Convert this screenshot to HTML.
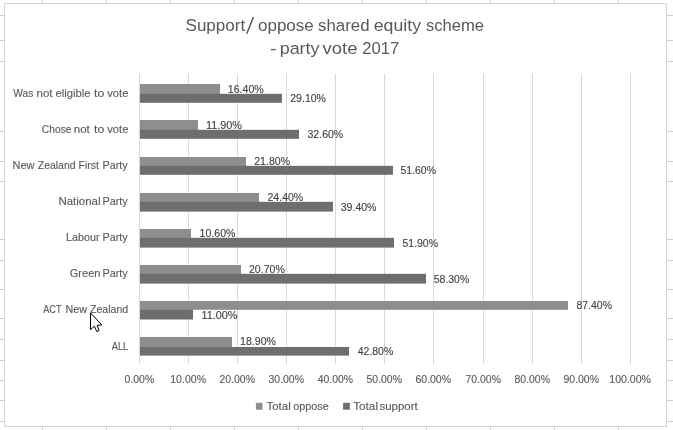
<!DOCTYPE html>
<html><head><meta charset="utf-8"><title>chart</title>
<style>html,body{margin:0;padding:0;background:#fff;overflow:hidden}svg{display:block;will-change:transform;filter:grayscale(1)}text{font-family:"Liberation Sans",sans-serif;stroke-width:0.12px}</style></head>
<body>
<svg width="673" height="430" viewBox="0 0 673 430">
<rect id="bg" x="0" y="0" width="673" height="430" fill="#fff"/>
<g id="shapes">
<g shape-rendering="crispEdges" fill="#d0d0d0">
<rect x="42" y="0" width="1" height="3"/><rect x="42" y="427" width="1" height="3"/>
<rect x="106" y="0" width="1" height="3"/><rect x="106" y="427" width="1" height="3"/>
<rect x="170" y="0" width="1" height="3"/><rect x="170" y="427" width="1" height="3"/>
<rect x="234" y="0" width="1" height="3"/><rect x="234" y="427" width="1" height="3"/>
<rect x="298" y="0" width="1" height="3"/><rect x="298" y="427" width="1" height="3"/>
<rect x="362" y="0" width="1" height="3"/><rect x="362" y="427" width="1" height="3"/>
<rect x="426" y="0" width="1" height="3"/><rect x="426" y="427" width="1" height="3"/>
<rect x="490" y="0" width="1" height="3"/><rect x="490" y="427" width="1" height="3"/>
<rect x="554" y="0" width="1" height="3"/><rect x="554" y="427" width="1" height="3"/>
<rect x="618" y="0" width="1" height="3"/><rect x="618" y="427" width="1" height="3"/>
<rect x="0" y="15" width="4" height="1"/><rect x="667" y="15" width="6" height="1"/>
<rect x="0" y="40" width="4" height="1"/><rect x="667" y="40" width="6" height="1"/>
<rect x="0" y="61" width="4" height="1"/><rect x="667" y="61" width="6" height="1"/>
<rect x="0" y="131" width="4" height="1"/><rect x="667" y="131" width="6" height="1"/>
<rect x="0" y="161" width="4" height="1"/><rect x="667" y="161" width="6" height="1"/>
<rect x="0" y="181" width="4" height="1"/><rect x="667" y="181" width="6" height="1"/>
<rect x="0" y="239" width="4" height="1"/><rect x="667" y="239" width="6" height="1"/>
<rect x="0" y="260" width="4" height="1"/><rect x="667" y="260" width="6" height="1"/>
<rect x="0" y="289" width="4" height="1"/><rect x="667" y="289" width="6" height="1"/>
<rect x="0" y="318" width="4" height="1"/><rect x="667" y="318" width="6" height="1"/>
<rect x="0" y="339" width="4" height="1"/><rect x="667" y="339" width="6" height="1"/>
<rect x="0" y="360" width="4" height="1"/><rect x="667" y="360" width="6" height="1"/>
<rect x="0" y="380" width="4" height="1"/><rect x="667" y="380" width="6" height="1"/>
<rect x="0" y="400" width="4" height="1"/><rect x="667" y="400" width="6" height="1"/>
<rect x="0" y="421" width="4" height="1"/><rect x="667" y="421" width="6" height="1"/>
</g>
<rect x="4.5" y="3.5" width="662" height="423" fill="#fff" stroke="#d6d6d6" stroke-width="1" shape-rendering="crispEdges"/>
<g shape-rendering="crispEdges" fill="#d9d9d9">
<rect x="139" y="74" width="1" height="290"/>
<rect x="188" y="74" width="1" height="290"/>
<rect x="237" y="74" width="1" height="290"/>
<rect x="286" y="74" width="1" height="290"/>
<rect x="335" y="74" width="1" height="290"/>
<rect x="384" y="74" width="1" height="290"/>
<rect x="433" y="74" width="1" height="290"/>
<rect x="483" y="74" width="1" height="290"/>
<rect x="532" y="74" width="1" height="290"/>
<rect x="581" y="74" width="1" height="290"/>
<rect x="630" y="74" width="1" height="290"/>
</g>
<g>
<rect x="140" y="91.8" width="80.0" height="2.5" fill="#6e6e6e"/><rect x="140" y="93.8" width="142.0" height="9.0" fill="#6e6e6e"/><rect x="140" y="84.0" width="80.0" height="9.8" fill="#8e8e8e"/>
<rect x="140" y="127.8" width="58.0" height="2.5" fill="#6e6e6e"/><rect x="140" y="129.8" width="159.0" height="9.0" fill="#6e6e6e"/><rect x="140" y="120.0" width="58.0" height="9.8" fill="#8e8e8e"/>
<rect x="140" y="163.8" width="106.0" height="2.5" fill="#6e6e6e"/><rect x="140" y="165.8" width="253.0" height="9.0" fill="#6e6e6e"/><rect x="140" y="157.0" width="106.0" height="8.8" fill="#8e8e8e"/>
<rect x="140" y="199.8" width="119.0" height="2.5" fill="#6e6e6e"/><rect x="140" y="201.8" width="193.0" height="9.8" fill="#6e6e6e"/><rect x="140" y="193.0" width="119.0" height="8.8" fill="#8e8e8e"/>
<rect x="140" y="235.8" width="51.0" height="2.5" fill="#6e6e6e"/><rect x="140" y="237.8" width="254.0" height="9.8" fill="#6e6e6e"/><rect x="140" y="229.0" width="51.0" height="8.8" fill="#8e8e8e"/>
<rect x="140" y="271.8" width="101.0" height="2.5" fill="#6e6e6e"/><rect x="140" y="273.8" width="286.0" height="9.8" fill="#6e6e6e"/><rect x="140" y="265.0" width="101.0" height="8.8" fill="#8e8e8e"/>
<rect x="140" y="307.8" width="53.0" height="2.5" fill="#6e6e6e"/><rect x="140" y="309.8" width="53.0" height="9.7" fill="#6e6e6e"/><rect x="140" y="301.0" width="428.0" height="8.8" fill="#8e8e8e"/>
<rect x="140" y="345.0" width="92.0" height="2.5" fill="#6e6e6e"/><rect x="140" y="347.0" width="209.0" height="8.6" fill="#6e6e6e"/><rect x="140" y="337.0" width="92.0" height="10.0" fill="#8e8e8e"/>
</g>
<rect x="255.9" y="402.8" width="6.7" height="6.9" fill="#8e8e8e"/>
<rect x="343.1" y="402.8" width="6.7" height="6.9" fill="#6e6e6e"/>
<line x1="246.8" y1="33.8" x2="253.4" y2="17.0" stroke="#595959" stroke-width="1.5"/>
</g>
<g id="texts">
<text id="t0" x="185.50" y="31.00" font-size="17.2" fill="#595959" stroke="none" stroke-width="0.12" textLength="59.75" lengthAdjust="spacingAndGlyphs">Support</text>
<text id="t1" x="258.00" y="31.00" font-size="17.2" fill="#595959" stroke="none" stroke-width="0.12" textLength="55.76" lengthAdjust="spacingAndGlyphs">oppose</text>
<text id="t2" x="317.99" y="31.00" font-size="17.2" fill="#595959" stroke="none" stroke-width="0.12" textLength="51.52" lengthAdjust="spacingAndGlyphs">shared</text>
<text id="t3" x="373.75" y="31.00" font-size="17.2" fill="#595959" stroke="none" stroke-width="0.12" textLength="47.25" lengthAdjust="spacingAndGlyphs">equity</text>
<text id="t4" x="425.99" y="31.00" font-size="17.2" fill="#595959" stroke="none" stroke-width="0.12" textLength="58.00" lengthAdjust="spacingAndGlyphs">scheme</text>
<text id="t5" x="269.91" y="54.00" font-size="17.2" fill="#595959" stroke="none" stroke-width="0.12" textLength="6.69" lengthAdjust="spacingAndGlyphs">-</text>
<text id="t6" x="279.74" y="54.00" font-size="17.2" fill="#595959" stroke="none" stroke-width="0.12" textLength="39.76" lengthAdjust="spacingAndGlyphs">party</text>
<text id="t7" x="322.50" y="54.00" font-size="17.2" fill="#595959" stroke="none" stroke-width="0.12" textLength="35.00" lengthAdjust="spacingAndGlyphs">vote</text>
<text id="t8" x="362.24" y="54.00" font-size="17.2" fill="#595959" stroke="none" stroke-width="0.12" textLength="37.02" lengthAdjust="spacingAndGlyphs">2017</text>
<text id="t9" x="13.25" y="97.00" font-size="10.9" fill="#595959" stroke="#595959" stroke-width="0.12" textLength="20.00" lengthAdjust="spacingAndGlyphs">Was</text>
<text id="t10" x="36.52" y="97.00" font-size="10.9" fill="#595959" stroke="#595959" stroke-width="0.12" textLength="15.98" lengthAdjust="spacingAndGlyphs">not</text>
<text id="t11" x="55.50" y="97.00" font-size="10.9" fill="#595959" stroke="#595959" stroke-width="0.12" textLength="35.00" lengthAdjust="spacingAndGlyphs">eligible</text>
<text id="t12" x="93.99" y="97.00" font-size="10.9" fill="#595959" stroke="#595959" stroke-width="0.12" textLength="10.25" lengthAdjust="spacingAndGlyphs">to</text>
<text id="t13" x="107.25" y="97.00" font-size="10.9" fill="#595959" stroke="#595959" stroke-width="0.12" textLength="21.25" lengthAdjust="spacingAndGlyphs">vote</text>
<text id="t14" x="41.75" y="133.00" font-size="10.9" fill="#595959" stroke="#595959" stroke-width="0.12" textLength="29.75" lengthAdjust="spacingAndGlyphs">Chose</text>
<text id="t15" x="73.77" y="133.00" font-size="10.9" fill="#595959" stroke="#595959" stroke-width="0.12" textLength="15.98" lengthAdjust="spacingAndGlyphs">not</text>
<text id="t16" x="93.99" y="133.00" font-size="10.9" fill="#595959" stroke="#595959" stroke-width="0.12" textLength="10.25" lengthAdjust="spacingAndGlyphs">to</text>
<text id="t17" x="107.25" y="133.00" font-size="10.9" fill="#595959" stroke="#595959" stroke-width="0.12" textLength="21.25" lengthAdjust="spacingAndGlyphs">vote</text>
<text id="t18" x="12.50" y="169.00" font-size="10.9" fill="#595959" stroke="#595959" stroke-width="0.12" textLength="22.00" lengthAdjust="spacingAndGlyphs">New</text>
<text id="t19" x="37.75" y="169.00" font-size="10.9" fill="#595959" stroke="#595959" stroke-width="0.12" textLength="37.76" lengthAdjust="spacingAndGlyphs">Zealand</text>
<text id="t20" x="78.50" y="169.00" font-size="10.9" fill="#595959" stroke="#595959" stroke-width="0.12" textLength="20.50" lengthAdjust="spacingAndGlyphs">First</text>
<text id="t21" x="102.51" y="169.00" font-size="10.9" fill="#595959" stroke="#595959" stroke-width="0.12" textLength="25.25" lengthAdjust="spacingAndGlyphs">Party</text>
<text id="t22" x="58.49" y="205.00" font-size="10.9" fill="#595959" stroke="#595959" stroke-width="0.12" textLength="42.00" lengthAdjust="spacingAndGlyphs">National</text>
<text id="t23" x="102.51" y="205.00" font-size="10.9" fill="#595959" stroke="#595959" stroke-width="0.12" textLength="25.25" lengthAdjust="spacingAndGlyphs">Party</text>
<text id="t24" x="66.00" y="241.00" font-size="10.9" fill="#595959" stroke="#595959" stroke-width="0.12" textLength="33.74" lengthAdjust="spacingAndGlyphs">Labour</text>
<text id="t25" x="102.51" y="241.00" font-size="10.9" fill="#595959" stroke="#595959" stroke-width="0.12" textLength="25.25" lengthAdjust="spacingAndGlyphs">Party</text>
<text id="t26" x="69.75" y="277.00" font-size="10.9" fill="#595959" stroke="#595959" stroke-width="0.12" textLength="30.75" lengthAdjust="spacingAndGlyphs">Green</text>
<text id="t27" x="102.51" y="277.00" font-size="10.9" fill="#595959" stroke="#595959" stroke-width="0.12" textLength="25.25" lengthAdjust="spacingAndGlyphs">Party</text>
<text id="t28" x="43.25" y="313.00" font-size="10.9" fill="#595959" stroke="#595959" stroke-width="0.12" textLength="18.25" lengthAdjust="spacingAndGlyphs">ACT</text>
<text id="t29" x="65.50" y="313.00" font-size="10.9" fill="#595959" stroke="#595959" stroke-width="0.12" textLength="21.50" lengthAdjust="spacingAndGlyphs">New</text>
<text id="t30" x="90.00" y="313.00" font-size="10.9" fill="#595959" stroke="#595959" stroke-width="0.12" textLength="38.25" lengthAdjust="spacingAndGlyphs">Zealand</text>
<text id="t31" x="111.75" y="350.00" font-size="10.9" fill="#595959" stroke="#595959" stroke-width="0.12" textLength="16.49" lengthAdjust="spacingAndGlyphs">ALL</text>
<text id="t32" x="227.75" y="93.00" font-size="10.9" fill="#404040" stroke="#404040" stroke-width="0.25" textLength="36.00" lengthAdjust="spacingAndGlyphs">16.40%</text>
<text id="t33" x="290.25" y="102.00" font-size="10.9" fill="#404040" stroke="#404040" stroke-width="0.25" textLength="35.74" lengthAdjust="spacingAndGlyphs">29.10%</text>
<text id="t34" x="205.99" y="129.00" font-size="10.9" fill="#404040" stroke="#404040" stroke-width="0.25" textLength="36.01" lengthAdjust="spacingAndGlyphs">11.90%</text>
<text id="t35" x="307.50" y="138.00" font-size="10.9" fill="#404040" stroke="#404040" stroke-width="0.25" textLength="35.74" lengthAdjust="spacingAndGlyphs">32.60%</text>
<text id="t36" x="254.25" y="165.00" font-size="10.9" fill="#404040" stroke="#404040" stroke-width="0.25" textLength="35.75" lengthAdjust="spacingAndGlyphs">21.80%</text>
<text id="t37" x="400.50" y="174.00" font-size="10.9" fill="#404040" stroke="#404040" stroke-width="0.25" textLength="35.49" lengthAdjust="spacingAndGlyphs">51.60%</text>
<text id="t38" x="267.50" y="201.00" font-size="10.9" fill="#404040" stroke="#404040" stroke-width="0.25" textLength="35.74" lengthAdjust="spacingAndGlyphs">24.40%</text>
<text id="t39" x="340.75" y="211.00" font-size="10.9" fill="#404040" stroke="#404040" stroke-width="0.25" textLength="35.74" lengthAdjust="spacingAndGlyphs">39.40%</text>
<text id="t40" x="199.50" y="237.00" font-size="10.9" fill="#404040" stroke="#404040" stroke-width="0.25" textLength="36.00" lengthAdjust="spacingAndGlyphs">10.60%</text>
<text id="t41" x="402.50" y="247.00" font-size="10.9" fill="#404040" stroke="#404040" stroke-width="0.25" textLength="35.49" lengthAdjust="spacingAndGlyphs">51.90%</text>
<text id="t42" x="249.00" y="273.00" font-size="10.9" fill="#404040" stroke="#404040" stroke-width="0.25" textLength="35.75" lengthAdjust="spacingAndGlyphs">20.70%</text>
<text id="t43" x="433.75" y="283.00" font-size="10.9" fill="#404040" stroke="#404040" stroke-width="0.25" textLength="35.49" lengthAdjust="spacingAndGlyphs">58.30%</text>
<text id="t44" x="576.50" y="309.00" font-size="10.9" fill="#404040" stroke="#404040" stroke-width="0.25" textLength="35.49" lengthAdjust="spacingAndGlyphs">87.40%</text>
<text id="t45" x="201.50" y="319.00" font-size="10.9" fill="#404040" stroke="#404040" stroke-width="0.25" textLength="36.00" lengthAdjust="spacingAndGlyphs">11.00%</text>
<text id="t46" x="240.00" y="345.00" font-size="10.9" fill="#404040" stroke="#404040" stroke-width="0.25" textLength="36.00" lengthAdjust="spacingAndGlyphs">18.90%</text>
<text id="t47" x="357.75" y="355.00" font-size="10.9" fill="#404040" stroke="#404040" stroke-width="0.25" textLength="35.49" lengthAdjust="spacingAndGlyphs">42.80%</text>
<text id="t48" x="124.50" y="383.00" font-size="10.9" fill="#595959" stroke="#595959" stroke-width="0.12" textLength="29.75" lengthAdjust="spacingAndGlyphs">0.00%</text>
<text id="t49" x="170.26" y="383.00" font-size="10.9" fill="#595959" stroke="#595959" stroke-width="0.12" textLength="35.75" lengthAdjust="spacingAndGlyphs">10.00%</text>
<text id="t50" x="219.50" y="383.00" font-size="10.9" fill="#595959" stroke="#595959" stroke-width="0.12" textLength="35.48" lengthAdjust="spacingAndGlyphs">20.00%</text>
<text id="t51" x="268.50" y="383.00" font-size="10.9" fill="#595959" stroke="#595959" stroke-width="0.12" textLength="35.49" lengthAdjust="spacingAndGlyphs">30.00%</text>
<text id="t52" x="317.75" y="383.00" font-size="10.9" fill="#595959" stroke="#595959" stroke-width="0.12" textLength="35.24" lengthAdjust="spacingAndGlyphs">40.00%</text>
<text id="t53" x="366.50" y="383.00" font-size="10.9" fill="#595959" stroke="#595959" stroke-width="0.12" textLength="35.49" lengthAdjust="spacingAndGlyphs">50.00%</text>
<text id="t54" x="415.50" y="383.00" font-size="10.9" fill="#595959" stroke="#595959" stroke-width="0.12" textLength="35.48" lengthAdjust="spacingAndGlyphs">60.00%</text>
<text id="t55" x="465.50" y="383.00" font-size="10.9" fill="#595959" stroke="#595959" stroke-width="0.12" textLength="35.48" lengthAdjust="spacingAndGlyphs">70.00%</text>
<text id="t56" x="514.50" y="383.00" font-size="10.9" fill="#595959" stroke="#595959" stroke-width="0.12" textLength="35.49" lengthAdjust="spacingAndGlyphs">80.00%</text>
<text id="t57" x="563.50" y="383.00" font-size="10.9" fill="#595959" stroke="#595959" stroke-width="0.12" textLength="35.49" lengthAdjust="spacingAndGlyphs">90.00%</text>
<text id="t58" x="609.25" y="383.00" font-size="10.9" fill="#595959" stroke="#595959" stroke-width="0.12" textLength="41.76" lengthAdjust="spacingAndGlyphs">100.00%</text>
<text id="t59" x="266.50" y="410.00" font-size="10.9" fill="#595959" stroke="#595959" stroke-width="0.12" textLength="24.24" lengthAdjust="spacingAndGlyphs">Total</text>
<text id="t60" x="293.25" y="410.00" font-size="10.9" fill="#595959" stroke="#595959" stroke-width="0.12" textLength="35.51" lengthAdjust="spacingAndGlyphs">oppose</text>
<text id="t61" x="353.25" y="410.00" font-size="10.9" fill="#595959" stroke="#595959" stroke-width="0.12" textLength="24.74" lengthAdjust="spacingAndGlyphs">Total</text>
<text id="t62" x="379.51" y="410.00" font-size="10.9" fill="#595959" stroke="#595959" stroke-width="0.12" textLength="38.25" lengthAdjust="spacingAndGlyphs">support</text>
</g>
<path id="cursor" d="M90.5 313.0 L90.5 329.6 L94.4 326.2 L96.8 331.6 L99.0 330.7 L97.2 325.4 L101.9 324.9 Z" fill="#fff" stroke="#000" stroke-width="1" stroke-linejoin="miter"/>
</svg>
</body></html>
